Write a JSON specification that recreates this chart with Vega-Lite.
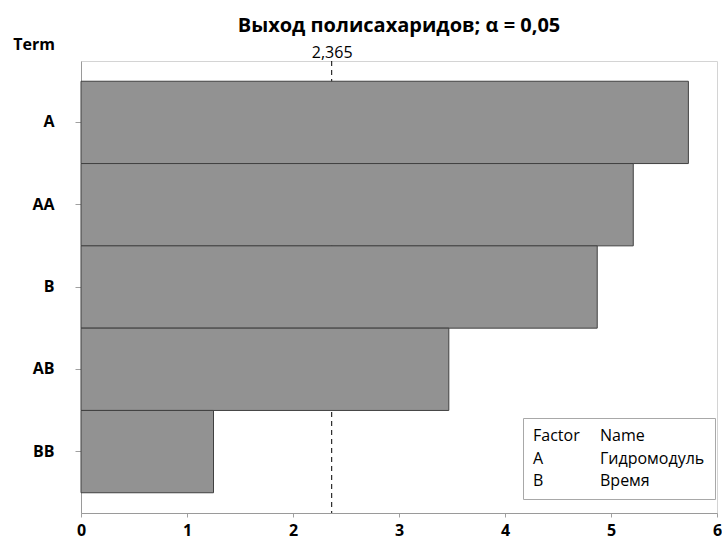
{
  "$schema": "https://vega.github.io/schema/vega-lite/v6.json",
  "width": 636,
  "height": 452,
  "autosize": "none",
  "padding": {"left": 81, "top": 61, "right": 5, "bottom": 26},
  "background": "white",
  "config": {
    "font": "Open Sans",
    "view": {"stroke": "#d4d4d4", "strokeWidth": 1},
    "title": {"color": "#000000"}
  },
  "title": {
    "text": "Выход полисахаридов; α = 0,05",
    "fontSize": 20,
    "fontWeight": "bold",
    "anchor": "middle",
    "offset": 0
  },
  "datasets": {
    "effects": [
      {"term": "A", "effect": 5.73},
      {"term": "AA", "effect": 5.21},
      {"term": "B", "effect": 4.87},
      {"term": "AB", "effect": 3.47},
      {"term": "BB", "effect": 1.25}
    ],
    "critical": [{"critical": 2.365}],
    "factors": [
      {"entry": "Factor"},
      {"entry": "Name"},
      {"entry": "A"},
      {"entry": "Гидромодуль"},
      {"entry": "B"},
      {"entry": "Время"}
    ]
  },
  "layer": [
    {
      "data": {"name": "critical"},
      "mark": {"type": "rule", "color": "#000000", "strokeWidth": 1, "strokeDash": [5, 4]},
      "encoding": {
        "x": {
          "field": "critical",
          "type": "quantitative",
          "scale": {"domain": [0, 6], "nice": false, "zero": true},
          "axis": {
            "orient": "top",
            "values": [2.365],
            "labelExpr": "'2,365'",
            "labelFontSize": 16,
            "labelFontWeight": "normal",
            "labelColor": "#000000",
            "labelPadding": 1,
            "ticks": false,
            "domain": false,
            "grid": false,
            "title": null
          }
        }
      }
    },
    {
      "data": {"name": "effects"},
      "mark": {"type": "bar", "fill": "#929292", "stroke": "#404040", "strokeWidth": 1},
      "encoding": {
        "y": {
          "field": "term",
          "type": "nominal",
          "sort": ["A", "AA", "B", "AB", "BB"],
          "scale": {"paddingInner": 0, "paddingOuter": 0.246},
          "axis": {
            "title": "Term",
            "titleAngle": 0,
            "titleAlign": "center",
            "titleBaseline": "middle",
            "titleX": -47.5,
            "titleY": -17,
            "titleFontSize": 16,
            "titleFontWeight": "bold",
            "titleColor": "#000000",
            "labelFontSize": 16,
            "labelFontWeight": "bold",
            "labelColor": "#000000",
            "labelPadding": 21,
            "tickSize": 6,
            "tickColor": "#a0a0a0",
            "domainColor": "#9a9a9a",
            "grid": false
          }
        },
        "x": {
          "field": "effect",
          "type": "quantitative",
          "scale": {"domain": [0, 6], "nice": false, "zero": true},
          "axis": {
            "orient": "bottom",
            "values": [0, 1, 2, 3, 4, 5, 6],
            "labelFontSize": 16,
            "labelFontWeight": "bold",
            "labelColor": "#000000",
            "labelPadding": 5,
            "labelFlush": false,
            "tickSize": 4,
            "tickColor": "#a0a0a0",
            "domainColor": "#9a9a9a",
            "grid": false,
            "title": null
          }
        }
      }
    },
    {
      "data": {"name": "factors"},
      "mark": {"type": "point", "opacity": 0},
      "encoding": {
        "color": {
          "field": "entry",
          "type": "nominal",
          "scale": {
            "domain": ["Factor", "Name", "A", "Гидромодуль", "B", "Время"],
            "range": ["#000000", "#000000", "#000000", "#000000", "#000000", "#000000"]
          },
          "legend": {
            "title": null,
            "orient": "none",
            "legendX": 442,
            "legendY": 357,
            "columns": 2,
            "direction": "horizontal",
            "symbolSize": 0,
            "symbolOpacity": 0,
            "symbolStrokeWidth": 0,
            "labelOffset": -16,
            "labelFontSize": 16,
            "labelColor": "#000000",
            "labelLimit": 300,
            "columnPadding": 20,
            "rowPadding": 6.5,
            "padding": 10,
            "strokeColor": "#a8a8a8",
            "fillColor": "#ffffff"
          }
        }
      }
    }
  ],
  "resolve": {"axis": {"x": "independent"}}
}
